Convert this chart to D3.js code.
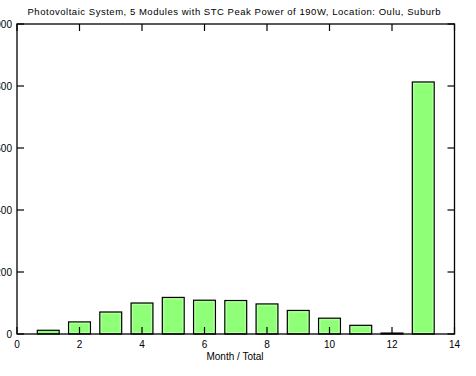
<!DOCTYPE html>
<html>
<title>PV monthly output</title>
<style>
  body {
    margin: 0px;
    background: white;
  }
  svg text {
    font-family: "Liberation Sans", Arial, sans-serif;
    font-size: 10px;
    fill: black;
  }
</style>
<script src="https://d3js.org/d3.v7.min.js"></script>
<body>
<svg></svg>
<script>

const titleText = "Photovoltaic System, 5 Modules with STC Peak Power of 190W, Location: Oulu, Suburb";
const xLabel = "Month / Total";

// month 1..12, then 13 = yearly total
const months = [1, 2, 3, 4, 5, 6, 7, 8, 9, 10, 11, 12, 13];
const energy = [12, 39, 71, 100, 118, 109, 108, 97, 76, 51, 28, 3, 813];

const xTicks = [0, 2, 4, 6, 8, 10, 12, 14];
const yTicks = [0, 200, 400, 600, 800, 1000];

const width = 476;
const height = 376;

const svg = d3.select("svg")
    .attr("width", width)
    .attr("height", height);

const plotLeft = 17, plotRight = 454.5, plotTop = 24, plotBottom = 334;

// scales
const x = d3.scaleLinear()
    .domain([0, 14])
    .range([plotLeft, plotRight]);

const y = d3.scaleLinear()
    .domain([0, 1000])
    .range([plotBottom, plotTop]);

const barW = x(0.7) - x(0);
const tickLen = 7;

// bars
const bars = svg.append("g").attr("class", "bars");

bars.selectAll("rect.fill")
    .data(months)
  .enter().append("rect")
    .attr("x", function(d) {return x(d) - barW / 2})
    .attr("y", function(d, i) {return y(energy[i])})
    .attr("width", barW)
    .attr("height", function(d, i) {return plotBottom - y(energy[i])})
    .style("fill", "#8fff78")
    .style("stroke", "black")
    .style("stroke-width", 1.2);

// lighter inner rim like the original shading
bars.selectAll("rect.rim")
    .data(months.filter(function(d, i) {return plotBottom - y(energy[i]) > 4}))
  .enter().append("rect")
    .attr("x", function(d) {return x(d) - barW / 2 + 1.5})
    .attr("y", function(d) {return y(energy[d - 1]) + 1.5})
    .attr("width", barW - 3)
    .attr("height", function(d) {return plotBottom - y(energy[d - 1]) - 3})
    .style("fill", "none")
    .style("stroke", "#b8ffa8")
    .style("stroke-width", 1);

// frame
svg.append("rect")
    .attr("x", plotLeft)
    .attr("y", plotTop)
    .attr("width", plotRight - plotLeft)
    .attr("height", plotBottom - plotTop)
    .style("fill", "none")
    .style("stroke", "black")
    .style("stroke-width", 1.3);

// ticks, mirrored on all four sides
const ticks = svg.append("g")
    .style("stroke", "black")
    .style("stroke-width", 1.2);

xTicks.forEach(function(t) {
  ticks.append("line")
      .attr("x1", x(t)).attr("x2", x(t))
      .attr("y1", plotBottom).attr("y2", plotBottom - tickLen);
  ticks.append("line")
      .attr("x1", x(t)).attr("x2", x(t))
      .attr("y1", plotTop).attr("y2", plotTop + tickLen);
  svg.append("text")
      .attr("x", x(t))
      .attr("y", plotBottom + 14)
      .attr("text-anchor", "middle")
      .text(t);
});

// y labels: left part falls off the canvas, as in the original
yTicks.forEach(function(t) {
  ticks.append("line")
      .attr("x1", plotLeft).attr("x2", plotLeft + tickLen)
      .attr("y1", y(t)).attr("y2", y(t));
  ticks.append("line")
      .attr("x1", plotRight).attr("x2", plotRight - tickLen)
      .attr("y1", y(t)).attr("y2", y(t));
  svg.append("text")
      .attr("x", 12)
      .attr("y", y(t) + 4)
      .attr("text-anchor", "end")
      .text(t);
});

// labels
svg.append("text")
    .attr("x", 234)
    .attr("y", 15)
    .attr("text-anchor", "middle")
    .attr("textLength", 413)
    .style("font-size", "9.5px")
    .text(titleText);

svg.append("text")
    .attr("x", 235)
    .attr("y", 360)
    .attr("text-anchor", "middle")
    .text(xLabel);

</script>
</body>
</html>
